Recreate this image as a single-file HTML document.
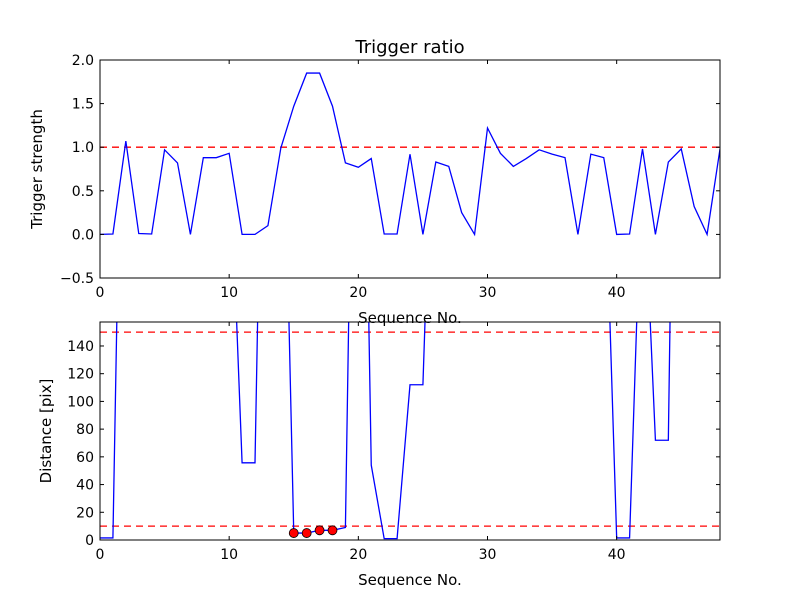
<!DOCTYPE html>
<html><head><meta charset="utf-8"><style>
body{margin:0;background:#fff}
svg{font-family:"DejaVu Sans","Liberation Sans",sans-serif}
</style></head><body>
<svg id="fig" width="800" height="600" viewBox="0 0 800 600" xmlns="http://www.w3.org/2000/svg">
<rect width="800" height="600" fill="#fff"/>
<defs>
<clipPath id="c1"><rect x="100" y="60" width="620" height="218"/></clipPath>
<clipPath id="c2"><rect x="100" y="322" width="620" height="218"/></clipPath>
</defs>
<g id="g1"></g>
<g id="g2"></g>
</svg>
<script>
const seqTop = [0,1,2,3,4,5,6,7,8,9,10,11,12,13,14,15,16,17,18,19,20,21,22,23,24,25,26,27,28,29,30,31,32,33,34,35,36,37,38,39,40,41,42,43,44,45,46,47,48];
const triggerValues = [0,0.005,1.07,0.01,0.005,0.97,0.82,0,0.88,0.88,0.93,0,0,0.1,0.99,1.47,1.85,1.85,1.47,0.82,0.77,0.87,0.005,0.005,0.92,0,0.83,0.78,0.25,0,1.22,0.93,0.78,0.87,0.97,0.92,0.88,0,0.92,0.88,0,0.005,0.98,0,0.83,0.98,0.32,0,0.98];
const distanceValues = [1.5,1.5,520,500,500,500,500,500,500,500,297,55.7,55.7,562,416,5,5,7,7,9,600,54,1,1,112,112,393,400,400,400,400,400,400,400,400,400,400,400,400,300,1.5,1.5,284,72,72,726,726,726,726];
const markerSeq = [15,16,17,18];
const markerValues = [5,5,7,7];
const topYTicks = [-0.5,0.0,0.5,1.0,1.5,2.0];
const bottomYTicks = [0,20,40,60,80,100,120,140];
const xTicks = [0,10,20,30,40];
const topThresholds = [1.0];
const bottomThresholds = [10,150];

const NS="http://www.w3.org/2000/svg";
function mk(parent,tag,attrs,text){const e=document.createElementNS(NS,tag);for(const k in attrs)e.setAttribute(k,attrs[k]);if(text!==undefined)e.textContent=text;parent.appendChild(e);return e;}
const X0=100,X1=720,XMIN=0,XMAX=48;
const xs=v=>X0+(v-XMIN)/(XMAX-XMIN)*(X1-X0);

function panel(g,top,bot,ymin,ymax,yticks,fmt,vals,thr,clip,ylabel,name){
  const ys=v=>bot-(v-ymin)/(ymax-ymin)*(bot-top);
  const gp=mk(g,'g',{'clip-path':`url(#${clip})`});
  thr.forEach(t=>{
    const l=mk(gp,'line',{x1:X0,x2:X1,y1:ys(t),y2:ys(t),stroke:'#f00','stroke-width':1.3,'stroke-dasharray':'7,5'});
    
    
  });
  const p=mk(gp,'polyline',{points:seqTop.map((s,i)=>xs(s)+','+ys(vals[i])).join(' '),fill:'none',stroke:'#00f','stroke-width':1.3});
  
  
  const fr=mk(g,'rect',{x:X0,y:top,width:X1-X0,height:bot-top,fill:'none',stroke:'#000','stroke-width':1});
  
  
  xTicks.forEach(t=>{
    mk(g,'line',{x1:xs(t),x2:xs(t),y1:bot,y2:bot-4,stroke:'#000'});
    mk(g,'line',{x1:xs(t),x2:xs(t),y1:top,y2:top+4,stroke:'#000'});
    const tl=mk(g,'text',{x:xs(t),y:bot+19,'text-anchor':'middle','font-size':14},String(t));
    
    
  });
  yticks.forEach(t=>{
    mk(g,'line',{x1:X0,x2:X0+4,y1:ys(t),y2:ys(t),stroke:'#000'});
    mk(g,'line',{x1:X1,x2:X1-4,y1:ys(t),y2:ys(t),stroke:'#000'});
    const tl=mk(g,'text',{x:X0-6,y:ys(t)+5,'text-anchor':'end','font-size':14},fmt(t));
    
    
  });
  const xl=mk(g,'text',{x:410,y:bot+45,'text-anchor':'middle','font-size':15},'Sequence No.');
  
  
  const yl=mk(g,'text',{x:0,y:0,'text-anchor':'middle','font-size':15,transform:`translate(${name==='trigger'?42:51},${(top+bot)/2}) rotate(-90)`},ylabel);
  
  
  return ys;
}
const g1=document.getElementById('g1'),g2=document.getElementById('g2');
panel(g1,60,278,-0.5,2.0,topYTicks,t=>(t<0?'\u2212':'')+Math.abs(t).toFixed(1),triggerValues,topThresholds,'c1','Trigger strength','trigger');
const ys2=panel(g2,322,540,0,157.3,bottomYTicks,t=>String(t),distanceValues,bottomThresholds,'c2','Distance [pix]','distance');
markerSeq.forEach((s,i)=>{
  const c=mk(g2,'circle',{cx:xs(s),cy:ys2(markerValues[i]),r:4.5,fill:'#f00',stroke:'#000','stroke-width':0.8});
  
  
});
const tt=mk(g1,'text',{x:410,y:53,'text-anchor':'middle','font-size':18},'Trigger ratio');


</script>
</body></html>
